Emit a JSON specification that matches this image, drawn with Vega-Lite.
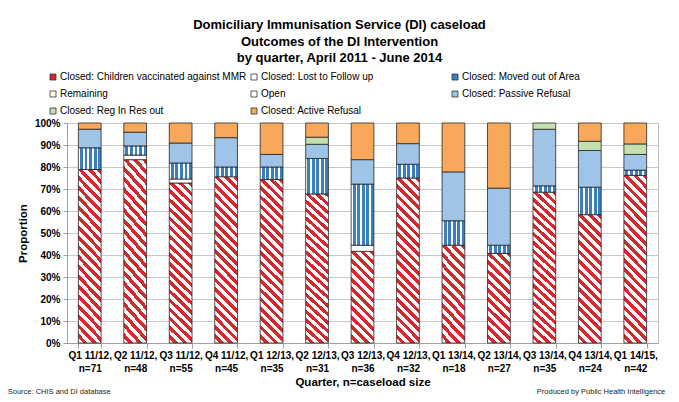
{
  "$schema": "https://vega.github.io/schema/vega-lite/v6.json",
  "width": 591,
  "height": 220,
  "autosize": {"type": "none"},
  "padding": {"left": 67, "top": 123, "right": 21, "bottom": 59},
  "background": "white",
  "title": {
    "text": ["Domiciliary Immunisation Service (DI) caseload", "Outcomes of the DI Intervention", "by quarter, April 2011 - June 2014"],
    "anchor": "middle", "dx": -23, "offset": 7, "fontSize": 13, "fontWeight": "bold", "lineHeight": 16.5, "color": "#000000", "font": "Liberation Sans"
  },
  "datasets": {
    "outcomes": [
      {"outcome": "Closed: Children vaccinated against MMR", "rank": 1},
      {"outcome": "Closed: Lost to Follow up", "rank": 2},
      {"outcome": "Closed: Moved out of Area", "rank": 3},
      {"outcome": "Remaining", "rank": 4},
      {"outcome": "Open", "rank": 5},
      {"outcome": "Closed: Passive Refusal", "rank": 6},
      {"outcome": "Closed: Reg In Res out", "rank": 7},
      {"outcome": "Closed: Active Refusal", "rank": 8}
    ],
    "cases": [
      {"quarter": "Q1 11/12, n=71", "outcome": "Closed: Children vaccinated against MMR", "count": 56},
      {"quarter": "Q1 11/12, n=71", "outcome": "Closed: Moved out of Area", "count": 7},
      {"quarter": "Q1 11/12, n=71", "outcome": "Closed: Passive Refusal", "count": 6},
      {"quarter": "Q1 11/12, n=71", "outcome": "Closed: Active Refusal", "count": 2},
      {"quarter": "Q2 11/12, n=48", "outcome": "Closed: Children vaccinated against MMR", "count": 40},
      {"quarter": "Q2 11/12, n=48", "outcome": "Closed: Lost to Follow up", "count": 1},
      {"quarter": "Q2 11/12, n=48", "outcome": "Closed: Moved out of Area", "count": 2},
      {"quarter": "Q2 11/12, n=48", "outcome": "Closed: Passive Refusal", "count": 3},
      {"quarter": "Q2 11/12, n=48", "outcome": "Closed: Active Refusal", "count": 2},
      {"quarter": "Q3 11/12, n=55", "outcome": "Closed: Children vaccinated against MMR", "count": 40},
      {"quarter": "Q3 11/12, n=55", "outcome": "Closed: Lost to Follow up", "count": 1},
      {"quarter": "Q3 11/12, n=55", "outcome": "Closed: Moved out of Area", "count": 4},
      {"quarter": "Q3 11/12, n=55", "outcome": "Closed: Passive Refusal", "count": 5},
      {"quarter": "Q3 11/12, n=55", "outcome": "Closed: Active Refusal", "count": 5},
      {"quarter": "Q4 11/12, n=45", "outcome": "Closed: Children vaccinated against MMR", "count": 34},
      {"quarter": "Q4 11/12, n=45", "outcome": "Closed: Moved out of Area", "count": 2},
      {"quarter": "Q4 11/12, n=45", "outcome": "Closed: Passive Refusal", "count": 6},
      {"quarter": "Q4 11/12, n=45", "outcome": "Closed: Active Refusal", "count": 3},
      {"quarter": "Q1 12/13, n=35", "outcome": "Closed: Children vaccinated against MMR", "count": 26},
      {"quarter": "Q1 12/13, n=35", "outcome": "Closed: Moved out of Area", "count": 2},
      {"quarter": "Q1 12/13, n=35", "outcome": "Closed: Passive Refusal", "count": 2},
      {"quarter": "Q1 12/13, n=35", "outcome": "Closed: Active Refusal", "count": 5},
      {"quarter": "Q2 12/13, n=31", "outcome": "Closed: Children vaccinated against MMR", "count": 21},
      {"quarter": "Q2 12/13, n=31", "outcome": "Closed: Moved out of Area", "count": 5},
      {"quarter": "Q2 12/13, n=31", "outcome": "Closed: Passive Refusal", "count": 2},
      {"quarter": "Q2 12/13, n=31", "outcome": "Closed: Reg In Res out", "count": 1},
      {"quarter": "Q2 12/13, n=31", "outcome": "Closed: Active Refusal", "count": 2},
      {"quarter": "Q3 12/13, n=36", "outcome": "Closed: Children vaccinated against MMR", "count": 15},
      {"quarter": "Q3 12/13, n=36", "outcome": "Closed: Lost to Follow up", "count": 1},
      {"quarter": "Q3 12/13, n=36", "outcome": "Closed: Moved out of Area", "count": 10},
      {"quarter": "Q3 12/13, n=36", "outcome": "Closed: Passive Refusal", "count": 4},
      {"quarter": "Q3 12/13, n=36", "outcome": "Closed: Active Refusal", "count": 6},
      {"quarter": "Q4 12/13, n=32", "outcome": "Closed: Children vaccinated against MMR", "count": 24},
      {"quarter": "Q4 12/13, n=32", "outcome": "Closed: Moved out of Area", "count": 2},
      {"quarter": "Q4 12/13, n=32", "outcome": "Closed: Passive Refusal", "count": 3},
      {"quarter": "Q4 12/13, n=32", "outcome": "Closed: Active Refusal", "count": 3},
      {"quarter": "Q1 13/14, n=18", "outcome": "Closed: Children vaccinated against MMR", "count": 8},
      {"quarter": "Q1 13/14, n=18", "outcome": "Closed: Moved out of Area", "count": 2},
      {"quarter": "Q1 13/14, n=18", "outcome": "Closed: Passive Refusal", "count": 4},
      {"quarter": "Q1 13/14, n=18", "outcome": "Closed: Active Refusal", "count": 4},
      {"quarter": "Q2 13/14, n=27", "outcome": "Closed: Children vaccinated against MMR", "count": 11},
      {"quarter": "Q2 13/14, n=27", "outcome": "Closed: Moved out of Area", "count": 1},
      {"quarter": "Q2 13/14, n=27", "outcome": "Closed: Passive Refusal", "count": 7},
      {"quarter": "Q2 13/14, n=27", "outcome": "Closed: Active Refusal", "count": 8},
      {"quarter": "Q3 13/14, n=35", "outcome": "Closed: Children vaccinated against MMR", "count": 24},
      {"quarter": "Q3 13/14, n=35", "outcome": "Closed: Moved out of Area", "count": 1},
      {"quarter": "Q3 13/14, n=35", "outcome": "Closed: Passive Refusal", "count": 9},
      {"quarter": "Q3 13/14, n=35", "outcome": "Closed: Reg In Res out", "count": 1},
      {"quarter": "Q4 13/14, n=24", "outcome": "Closed: Children vaccinated against MMR", "count": 14},
      {"quarter": "Q4 13/14, n=24", "outcome": "Closed: Moved out of Area", "count": 3},
      {"quarter": "Q4 13/14, n=24", "outcome": "Closed: Passive Refusal", "count": 4},
      {"quarter": "Q4 13/14, n=24", "outcome": "Closed: Reg In Res out", "count": 1},
      {"quarter": "Q4 13/14, n=24", "outcome": "Closed: Active Refusal", "count": 2},
      {"quarter": "Q1 14/15, n=42", "outcome": "Closed: Children vaccinated against MMR", "count": 32},
      {"quarter": "Q1 14/15, n=42", "outcome": "Closed: Moved out of Area", "count": 1},
      {"quarter": "Q1 14/15, n=42", "outcome": "Closed: Passive Refusal", "count": 3},
      {"quarter": "Q1 14/15, n=42", "outcome": "Closed: Reg In Res out", "count": 2},
      {"quarter": "Q1 14/15, n=42", "outcome": "Closed: Active Refusal", "count": 4}
    ]
  },
  "layer": [
    {
      "data": {"name": "cases"},
      "transform": [
        {"lookup": "outcome", "from": {"data": {"name": "outcomes"}, "key": "outcome", "fields": ["rank"]}}
      ],
      "mark": {"type": "bar", "stroke": "#262626", "strokeWidth": 0.8},
      "encoding": {
        "x": {
          "field": "quarter", "type": "nominal", "sort": null,
          "scale": {"paddingInner": 0.5, "paddingOuter": 0.25},
          "axis": {
            "title": "Quarter, n=caseload size", "labelAngle": 0,
            "labelExpr": "[slice(datum.label, 0, indexof(datum.label, ',') + 1), slice(datum.label, indexof(datum.label, ',') + 2)]",
            "labelFontSize": 10, "labelFontWeight": "bold", "labelLineHeight": 13, "labelColor": "#000000",
            "tickBand": "extent", "tickSize": 5, "tickColor": "#a0a0a0", "domainColor": "#a0a0a0",
            "labelPadding": 2, "titleFontSize": 11.5, "titleFontWeight": "bold", "titlePadding": 3, "titleColor": "#000000", "grid": false
          }
        },
        "y": {
          "field": "count", "type": "quantitative", "stack": "normalize",
          "scale": {"domain": [0, 1], "nice": false},
          "axis": {
            "title": "Proportion", "format": ".0%", "values": [0, 0.1, 0.2, 0.3, 0.4, 0.5, 0.6, 0.7, 0.8, 0.9, 1], "tickCount": 11, "labelOverlap": false,
            "labelFontSize": 10, "labelFontWeight": "bold", "labelPadding": 3, "labelColor": "#000000",
            "tickSize": 4, "tickColor": "#a0a0a0", "domainColor": "#a0a0a0",
            "grid": true, "gridColor": "#c8c8c8",
            "titleFontSize": 11.5, "titleFontWeight": "bold", "titlePadding": 6, "titleColor": "#000000"
          }
        },
        "order": {"field": "rank", "type": "quantitative", "sort": "ascending"},
        "fill": {
          "field": "outcome", "type": "nominal",
          "scale": {
            "domain": ["Closed: Children vaccinated against MMR", "Closed: Lost to Follow up", "Closed: Moved out of Area", "Remaining", "Open", "Closed: Passive Refusal", "Closed: Reg In Res out", "Closed: Active Refusal"],
            "range": ["#d9272e", "#ffffff", "#3a80c0", "#fff8ee", "#ffffff", "#9fc4e7", "#c4e0ae", "#f8a85a"]
          },
          "legend": {
            "title": null, "orient": "none", "legendX": -19, "legendY": -51, "columns": 3, "direction": "horizontal", "gridAlign": "all",
            "symbolType": "square", "symbolSize": 36, "symbolStrokeWidth": 0.8, "symbolStrokeColor": "#333333",
            "labelFontSize": 10, "labelColor": "#000000", "labelOffset": 2, "columnPadding": 2, "rowPadding": 7, "padding": 0, "labelLimit": 300
          },
          "condition": [
            {
              "test": "datum.outcome === 'Closed: Children vaccinated against MMR' && datum.count_end - datum.count_start < 0.5",
              "value": {"gradient": "linear", "x1": 1, "y1": 0, "x2": 0.713, "y2": 1.174, "stops": [
                {"offset": 0, "color": "#d9272e"}, {"offset": 0.04167, "color": "#d9272e"}, {"offset": 0.04167, "color": "#ffffff"}, {"offset": 0.08333, "color": "#ffffff"},
                {"offset": 0.08333, "color": "#d9272e"}, {"offset": 0.125, "color": "#d9272e"}, {"offset": 0.125, "color": "#ffffff"}, {"offset": 0.16667, "color": "#ffffff"},
                {"offset": 0.16667, "color": "#d9272e"}, {"offset": 0.20833, "color": "#d9272e"}, {"offset": 0.20833, "color": "#ffffff"}, {"offset": 0.25, "color": "#ffffff"},
                {"offset": 0.25, "color": "#d9272e"}, {"offset": 0.29167, "color": "#d9272e"}, {"offset": 0.29167, "color": "#ffffff"}, {"offset": 0.33333, "color": "#ffffff"},
                {"offset": 0.33333, "color": "#d9272e"}, {"offset": 0.375, "color": "#d9272e"}, {"offset": 0.375, "color": "#ffffff"}, {"offset": 0.41667, "color": "#ffffff"},
                {"offset": 0.41667, "color": "#d9272e"}, {"offset": 0.45833, "color": "#d9272e"}, {"offset": 0.45833, "color": "#ffffff"}, {"offset": 0.5, "color": "#ffffff"},
                {"offset": 0.5, "color": "#d9272e"}, {"offset": 0.54167, "color": "#d9272e"}, {"offset": 0.54167, "color": "#ffffff"}, {"offset": 0.58333, "color": "#ffffff"},
                {"offset": 0.58333, "color": "#d9272e"}, {"offset": 0.625, "color": "#d9272e"}, {"offset": 0.625, "color": "#ffffff"}, {"offset": 0.66667, "color": "#ffffff"},
                {"offset": 0.66667, "color": "#d9272e"}, {"offset": 0.70833, "color": "#d9272e"}, {"offset": 0.70833, "color": "#ffffff"}, {"offset": 0.75, "color": "#ffffff"},
                {"offset": 0.75, "color": "#d9272e"}, {"offset": 0.79167, "color": "#d9272e"}, {"offset": 0.79167, "color": "#ffffff"}, {"offset": 0.83333, "color": "#ffffff"},
                {"offset": 0.83333, "color": "#d9272e"}, {"offset": 0.875, "color": "#d9272e"}, {"offset": 0.875, "color": "#ffffff"}, {"offset": 0.91667, "color": "#ffffff"},
                {"offset": 0.91667, "color": "#d9272e"}, {"offset": 0.95833, "color": "#d9272e"}, {"offset": 0.95833, "color": "#ffffff"}, {"offset": 1, "color": "#ffffff"}
              ]}
            },
            {
              "test": "datum.outcome === 'Closed: Children vaccinated against MMR' && datum.count_end - datum.count_start < 0.62",
              "value": {"gradient": "linear", "x1": 1, "y1": 0, "x2": 0.798, "y2": 1.141, "stops": [
                {"offset": 0, "color": "#d9272e"}, {"offset": 0.03125, "color": "#d9272e"}, {"offset": 0.03125, "color": "#ffffff"}, {"offset": 0.0625, "color": "#ffffff"},
                {"offset": 0.0625, "color": "#d9272e"}, {"offset": 0.09375, "color": "#d9272e"}, {"offset": 0.09375, "color": "#ffffff"}, {"offset": 0.125, "color": "#ffffff"},
                {"offset": 0.125, "color": "#d9272e"}, {"offset": 0.15625, "color": "#d9272e"}, {"offset": 0.15625, "color": "#ffffff"}, {"offset": 0.1875, "color": "#ffffff"},
                {"offset": 0.1875, "color": "#d9272e"}, {"offset": 0.21875, "color": "#d9272e"}, {"offset": 0.21875, "color": "#ffffff"}, {"offset": 0.25, "color": "#ffffff"},
                {"offset": 0.25, "color": "#d9272e"}, {"offset": 0.28125, "color": "#d9272e"}, {"offset": 0.28125, "color": "#ffffff"}, {"offset": 0.3125, "color": "#ffffff"},
                {"offset": 0.3125, "color": "#d9272e"}, {"offset": 0.34375, "color": "#d9272e"}, {"offset": 0.34375, "color": "#ffffff"}, {"offset": 0.375, "color": "#ffffff"},
                {"offset": 0.375, "color": "#d9272e"}, {"offset": 0.40625, "color": "#d9272e"}, {"offset": 0.40625, "color": "#ffffff"}, {"offset": 0.4375, "color": "#ffffff"},
                {"offset": 0.4375, "color": "#d9272e"}, {"offset": 0.46875, "color": "#d9272e"}, {"offset": 0.46875, "color": "#ffffff"}, {"offset": 0.5, "color": "#ffffff"},
                {"offset": 0.5, "color": "#d9272e"}, {"offset": 0.53125, "color": "#d9272e"}, {"offset": 0.53125, "color": "#ffffff"}, {"offset": 0.5625, "color": "#ffffff"},
                {"offset": 0.5625, "color": "#d9272e"}, {"offset": 0.59375, "color": "#d9272e"}, {"offset": 0.59375, "color": "#ffffff"}, {"offset": 0.625, "color": "#ffffff"},
                {"offset": 0.625, "color": "#d9272e"}, {"offset": 0.65625, "color": "#d9272e"}, {"offset": 0.65625, "color": "#ffffff"}, {"offset": 0.6875, "color": "#ffffff"},
                {"offset": 0.6875, "color": "#d9272e"}, {"offset": 0.71875, "color": "#d9272e"}, {"offset": 0.71875, "color": "#ffffff"}, {"offset": 0.75, "color": "#ffffff"},
                {"offset": 0.75, "color": "#d9272e"}, {"offset": 0.78125, "color": "#d9272e"}, {"offset": 0.78125, "color": "#ffffff"}, {"offset": 0.8125, "color": "#ffffff"},
                {"offset": 0.8125, "color": "#d9272e"}, {"offset": 0.84375, "color": "#d9272e"}, {"offset": 0.84375, "color": "#ffffff"}, {"offset": 0.875, "color": "#ffffff"},
                {"offset": 0.875, "color": "#d9272e"}, {"offset": 0.90625, "color": "#d9272e"}, {"offset": 0.90625, "color": "#ffffff"}, {"offset": 0.9375, "color": "#ffffff"},
                {"offset": 0.9375, "color": "#d9272e"}, {"offset": 0.96875, "color": "#d9272e"}, {"offset": 0.96875, "color": "#ffffff"}, {"offset": 1, "color": "#ffffff"}
              ]}
            },
            {
              "test": "datum.outcome === 'Closed: Children vaccinated against MMR'",
              "value": {"gradient": "linear", "x1": 1, "y1": 0, "x2": 0.846, "y2": 1.117, "stops": [
                {"offset": 0, "color": "#d9272e"}, {"offset": 0.025, "color": "#d9272e"}, {"offset": 0.025, "color": "#ffffff"}, {"offset": 0.05, "color": "#ffffff"},
                {"offset": 0.05, "color": "#d9272e"}, {"offset": 0.075, "color": "#d9272e"}, {"offset": 0.075, "color": "#ffffff"}, {"offset": 0.1, "color": "#ffffff"},
                {"offset": 0.1, "color": "#d9272e"}, {"offset": 0.125, "color": "#d9272e"}, {"offset": 0.125, "color": "#ffffff"}, {"offset": 0.15, "color": "#ffffff"},
                {"offset": 0.15, "color": "#d9272e"}, {"offset": 0.175, "color": "#d9272e"}, {"offset": 0.175, "color": "#ffffff"}, {"offset": 0.2, "color": "#ffffff"},
                {"offset": 0.2, "color": "#d9272e"}, {"offset": 0.225, "color": "#d9272e"}, {"offset": 0.225, "color": "#ffffff"}, {"offset": 0.25, "color": "#ffffff"},
                {"offset": 0.25, "color": "#d9272e"}, {"offset": 0.275, "color": "#d9272e"}, {"offset": 0.275, "color": "#ffffff"}, {"offset": 0.3, "color": "#ffffff"},
                {"offset": 0.3, "color": "#d9272e"}, {"offset": 0.325, "color": "#d9272e"}, {"offset": 0.325, "color": "#ffffff"}, {"offset": 0.35, "color": "#ffffff"},
                {"offset": 0.35, "color": "#d9272e"}, {"offset": 0.375, "color": "#d9272e"}, {"offset": 0.375, "color": "#ffffff"}, {"offset": 0.4, "color": "#ffffff"},
                {"offset": 0.4, "color": "#d9272e"}, {"offset": 0.425, "color": "#d9272e"}, {"offset": 0.425, "color": "#ffffff"}, {"offset": 0.45, "color": "#ffffff"},
                {"offset": 0.45, "color": "#d9272e"}, {"offset": 0.475, "color": "#d9272e"}, {"offset": 0.475, "color": "#ffffff"}, {"offset": 0.5, "color": "#ffffff"},
                {"offset": 0.5, "color": "#d9272e"}, {"offset": 0.525, "color": "#d9272e"}, {"offset": 0.525, "color": "#ffffff"}, {"offset": 0.55, "color": "#ffffff"},
                {"offset": 0.55, "color": "#d9272e"}, {"offset": 0.575, "color": "#d9272e"}, {"offset": 0.575, "color": "#ffffff"}, {"offset": 0.6, "color": "#ffffff"},
                {"offset": 0.6, "color": "#d9272e"}, {"offset": 0.625, "color": "#d9272e"}, {"offset": 0.625, "color": "#ffffff"}, {"offset": 0.65, "color": "#ffffff"},
                {"offset": 0.65, "color": "#d9272e"}, {"offset": 0.675, "color": "#d9272e"}, {"offset": 0.675, "color": "#ffffff"}, {"offset": 0.7, "color": "#ffffff"},
                {"offset": 0.7, "color": "#d9272e"}, {"offset": 0.725, "color": "#d9272e"}, {"offset": 0.725, "color": "#ffffff"}, {"offset": 0.75, "color": "#ffffff"},
                {"offset": 0.75, "color": "#d9272e"}, {"offset": 0.775, "color": "#d9272e"}, {"offset": 0.775, "color": "#ffffff"}, {"offset": 0.8, "color": "#ffffff"},
                {"offset": 0.8, "color": "#d9272e"}, {"offset": 0.825, "color": "#d9272e"}, {"offset": 0.825, "color": "#ffffff"}, {"offset": 0.85, "color": "#ffffff"},
                {"offset": 0.85, "color": "#d9272e"}, {"offset": 0.875, "color": "#d9272e"}, {"offset": 0.875, "color": "#ffffff"}, {"offset": 0.9, "color": "#ffffff"},
                {"offset": 0.9, "color": "#d9272e"}, {"offset": 0.925, "color": "#d9272e"}, {"offset": 0.925, "color": "#ffffff"}, {"offset": 0.95, "color": "#ffffff"},
                {"offset": 0.95, "color": "#d9272e"}, {"offset": 0.975, "color": "#d9272e"}, {"offset": 0.975, "color": "#ffffff"}, {"offset": 1, "color": "#ffffff"}
              ]}
            },
            {
              "test": "datum.outcome === 'Closed: Moved out of Area'",
              "value": {"gradient": "linear", "x1": 0, "y1": 0, "x2": 1, "y2": 0, "stops": [
                {"offset": 0, "color": "#ffffff"}, {"offset": 0.07, "color": "#ffffff"}, {"offset": 0.07, "color": "#3a80c0"}, {"offset": 0.2, "color": "#3a80c0"},
                {"offset": 0.2, "color": "#ffffff"}, {"offset": 0.27, "color": "#ffffff"}, {"offset": 0.27, "color": "#3a80c0"}, {"offset": 0.4, "color": "#3a80c0"},
                {"offset": 0.4, "color": "#ffffff"}, {"offset": 0.47, "color": "#ffffff"}, {"offset": 0.47, "color": "#3a80c0"}, {"offset": 0.6, "color": "#3a80c0"},
                {"offset": 0.6, "color": "#ffffff"}, {"offset": 0.67, "color": "#ffffff"}, {"offset": 0.67, "color": "#3a80c0"}, {"offset": 0.8, "color": "#3a80c0"},
                {"offset": 0.8, "color": "#ffffff"}, {"offset": 0.87, "color": "#ffffff"}, {"offset": 0.87, "color": "#3a80c0"}, {"offset": 1, "color": "#3a80c0"}
              ]}
            }
          ]
        }
      }
    },
    {
      "data": {"values": [{"note": "Source: CHIS and DI database"}]},
      "mark": {"type": "text", "align": "left", "baseline": "middle", "dx": -82, "fontSize": 7.5, "font": "Liberation Sans", "color": "#262626"},
      "encoding": {
        "x": {"datum": "Q1 11/12, n=71", "type": "nominal"},
        "y": {
          "datum": -0.222, "type": "quantitative", "scale": {"domain": [0, 1], "nice": false},
          "axis": {
            "title": "Proportion", "format": ".0%", "values": [0, 0.1, 0.2, 0.3, 0.4, 0.5, 0.6, 0.7, 0.8, 0.9, 1], "tickCount": 11, "labelOverlap": false,
            "labelFontSize": 10, "labelFontWeight": "bold", "labelPadding": 3, "labelColor": "#000000",
            "tickSize": 4, "tickColor": "#a0a0a0", "domainColor": "#a0a0a0",
            "grid": true, "gridColor": "#c8c8c8",
            "titleFontSize": 11.5, "titleFontWeight": "bold", "titlePadding": 6, "titleColor": "#000000"
          }
        },
        "text": {"field": "note", "type": "nominal"}
      }
    },
    {
      "data": {"values": [{"note": "Produced by Public Health Intelligence"}]},
      "mark": {"type": "text", "align": "right", "baseline": "middle", "dx": 30, "fontSize": 7.5, "font": "Liberation Sans", "color": "#262626"},
      "encoding": {
        "x": {"datum": "Q1 14/15, n=42", "type": "nominal"},
        "y": {
          "datum": -0.222, "type": "quantitative", "scale": {"domain": [0, 1], "nice": false},
          "axis": {
            "title": "Proportion", "format": ".0%", "values": [0, 0.1, 0.2, 0.3, 0.4, 0.5, 0.6, 0.7, 0.8, 0.9, 1], "tickCount": 11, "labelOverlap": false,
            "labelFontSize": 10, "labelFontWeight": "bold", "labelPadding": 3, "labelColor": "#000000",
            "tickSize": 4, "tickColor": "#a0a0a0", "domainColor": "#a0a0a0",
            "grid": true, "gridColor": "#c8c8c8",
            "titleFontSize": 11.5, "titleFontWeight": "bold", "titlePadding": 6, "titleColor": "#000000"
          }
        },
        "text": {"field": "note", "type": "nominal"}
      }
    }
  ],
  "config": {
    "font": "Liberation Sans",
    "view": {"stroke": "#bfbfbf", "strokeWidth": 1}
  }
}
